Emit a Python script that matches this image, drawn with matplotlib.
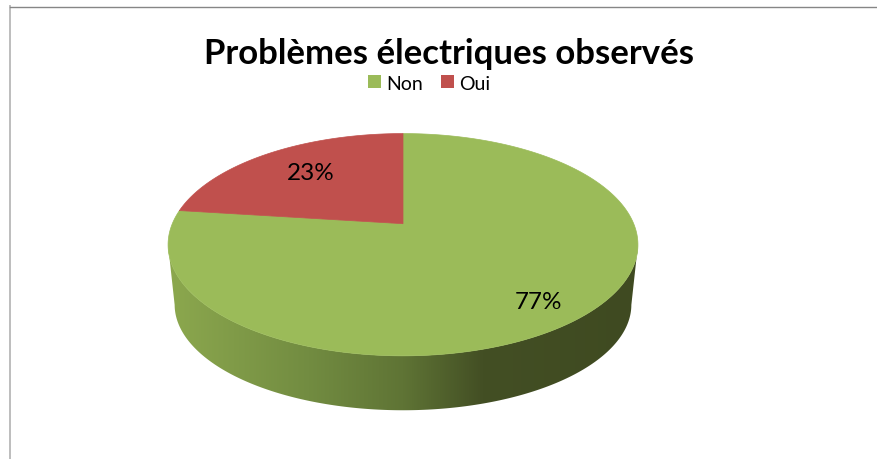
import matplotlib
matplotlib.use('Agg')
import matplotlib.pyplot as plt
import numpy as np
from matplotlib.colors import LinearSegmentedColormap
from matplotlib.patches import Patch, Polygon

title = 'Problèmes électriques observés'
categories = ['Non', 'Oui']
values = [77, 23]
colors = ['#9BBB59', '#C0504D']

plt.rcParams['font.family'] = ['Lato', 'DejaVu Sans']

# pie geometry in pixels, the disc is tilted so the apex sits above the middle
cx = 403
apex_y = 224.7
radius = 230.7
persp = 0.189
y_slope = -64.7
rim_shrink = 0.972
rim_squash = 0.95
rim_mid = 245
rim_drop = 60


def project(angle, r=1.0):
    # angle in degrees clockwise from 12 o'clock, returns pixel x, y
    t = np.radians(angle)
    u = r * np.sin(t)
    v = r * np.cos(t)
    d = 1 + persp * v
    return cx + radius * u / d, (y_slope * v + apex_y) / d


def lower(x, y):
    return cx + (x - cx) * rim_shrink, rim_mid + (y - rim_mid) * rim_squash + rim_drop


fig = plt.figure(figsize=(8.77, 4.60), dpi=100)
ax = fig.add_axes([0, 0, 1, 1])
ax.set_xlim(0, 877)
ax.set_ylim(460, 0)
ax.axis('off')

# chart frame, only top and left are visible in the crop
ax.plot([10, 10], [7, 460], color='#bdbdbd', lw=1.4)
ax.plot([10, 877], [7.5, 7.5], color='#868686', lw=1.0)

# side of the disc, shaded from left to right
front = np.linspace(101, 259, 200)
tx, ty = project(front)
lx, ly = lower(*project(front))
side = Polygon(np.r_[np.c_[tx, ty], np.c_[lx, ly][::-1]], closed=True, fc='none', ec='none')
ax.add_patch(side)
shade = LinearSegmentedColormap.from_list('side', [
    (0.0, '#8CA84E'), (0.3, '#728C41'), (0.5, '#5F7435'),
    (0.67, '#434F24'), (1.0, '#3F4A21')])
grad = ax.imshow(np.linspace(0, 1, 256).reshape(1, -1), cmap=shade, aspect='auto',
                 extent=[168, 638, 460, 0], zorder=1)
grad.set_clip_path(side)
ax.set_xlim(0, 877)
ax.set_ylim(460, 0)

# top face, slices run clockwise from 12 o'clock
start = 0
for val, col in zip(values, colors):
    end = start + val / sum(values) * 360
    a = np.linspace(start, end, 300)
    x, y = project(a)
    ax.add_patch(Polygon(np.r_[[[cx, apex_y]], np.c_[x, y]], closed=True, fc=col, ec=col,
                         lw=0.5, zorder=2))
    start = end

ax.text(311, 174, f'{values[1]}%', fontsize=17.5, ha='center', va='center', color='black', zorder=3)
ax.text(539, 302.5, f'{values[0]}%', fontsize=17.5, ha='center', va='center', color='black', zorder=3)

ax.text(449, 54.5, title, fontsize=25, fontweight='bold', ha='center', va='center', color='black')

handles = [Patch(fc=c, ec='none') for c in colors]
ax.legend(handles, categories, loc='center', bbox_to_anchor=(429 / 877, 1 - 84 / 460), ncol=2,
          frameon=False, fontsize=14, handlelength=0.68, handleheight=0.68, handletextpad=0.25,
          columnspacing=0.9, borderpad=0, labelcolor='black')

fig.savefig('out.png', dpi=100)
